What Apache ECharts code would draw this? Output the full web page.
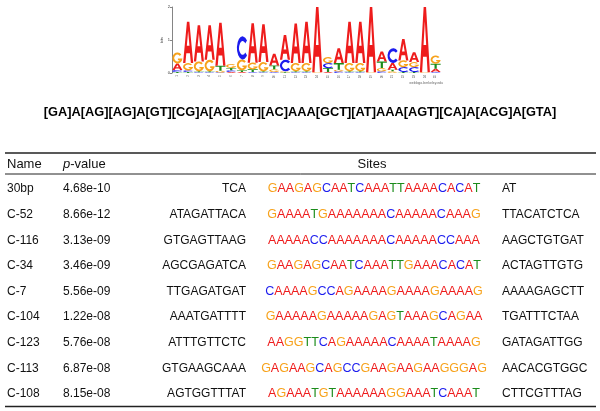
<!DOCTYPE html>
<html><head><meta charset="utf-8">
<script src="https://cdn.jsdelivr.net/npm/echarts@6/dist/echarts.min.js"></script>
<style>html,body{margin:0;padding:0;background:#fff}#c{width:600px;height:411px}</style>
</head><body><div id="c"></div>
<script>
// ---------- DATA ----------
const positions = ['1','2','3','4','5','6','7','8','9','10','11','12','13','14','15','16','17','18','19','20','21','22','23','24','25'];
const bitsA = [0.20,1.25,1.10,1.05,1.30,0.03,0.03,1.20,1.15,0.35,0.75,1.20,1.25,1.98,0.03,0.45,1.25,1.25,1.98,0.30,0.20,0.65,0.30,1.98,0.10];
const bitsC = [0.06,0.05,0.02,0.02,0.02,0.05,0.70,0.03,0.02,0.03,0.35,0.02,0.02,0.00,0.15,0.05,0.02,0.02,0.00,0.05,0.45,0.15,0.15,0.00,0.03];
const bitsG = [0.33,0.22,0.30,0.35,0.05,0.12,0.33,0.20,0.28,0.08,0.03,0.25,0.25,0.02,0.18,0.05,0.25,0.25,0.02,0.10,0.05,0.20,0.15,0.02,0.25];
const bitsT = [0.03,0.03,0.03,0.03,0.15,0.07,0.05,0.08,0.03,0.12,0.02,0.03,0.03,0.00,0.12,0.20,0.03,0.03,0.00,0.20,0.05,0.03,0.03,0.00,0.15];
const bitTicks = [0,1,2];
const consensus = '[GA]A[AG][AG]A[GT][CG]A[AG][AT][AC]AAA[GCT][AT]AAA[AGT][CA]A[ACG]A[GTA]';
const headers = ['Name','p-value','Sites'];
const names = ['30bp','C-52','C-116','C-34','C-7','C-104','C-123','C-113','C-108'];
const pvalues = ['4.68e-10','8.66e-12','3.13e-09','3.46e-09','5.56e-09','1.22e-08','5.76e-08','6.87e-08','8.15e-08'];
const leftFlanks = ['TCA','ATAGATTACA','GTGAGTTAAG','AGCGAGATCA','TTGAGATGAT','AAATGATTTT','ATTTGTTCTC','GTGAAGCAAA','AGTGGTTTAT'];
const sites = ['GAAGAGCAATCAAATTAAAACACAT','GAAAATGAAAAAAACAAAAACAAAG','AAAAACCAAAAAAACAAAAACCAAA','GAAGAGCAATCAAATTGAAACACAT','CAAAAGCCAGAAAAGAAAAGAAAAG','GAAAAAGAAAAAGAGTAAAGCAGAA','AAGGTTCAGAAAAACAAAATAAAAG','GAGAAGCAGCCGAAGAAGAAGGGAG','AGAAATGTAAAAAAGGAAATCAAAT'];
const rightFlanks = ['AT','TTACATCTCA','AAGCTGTGAT','ACTAGTTGTG','AAAAGAGCTT','TGATTTCTAA','GATAGATTGG','AACACGTGGC','CTTCGTTTAG'];

// ---------- STYLE ----------
const FONT = '"Liberation Sans", Arial, Helvetica, sans-serif';
const letters = ['A','C','G','T'];
const letterColors = {A:'#ee1c1c', C:'#1c1cee', G:'#f7a21b', T:'#1b8c1b'};
const glyphs = {
  A:'M0,100 L38,0 L62,0 L100,100 L77,100 L68,76 L32,76 L23,100 Z M37,58 L63,58 L50,22 Z',
  C:'M88.3,17.9 A50,50 0 1 0 88.3,82.1 L73,69.3 A30,30 0 1 1 73,30.7 Z',
  G:'M88.3,17.9 A50,50 0 1 0 99.7,55 L55,55 L55,70 L72.4,70 A30,30 0 1 1 73,30.7 Z',
  T:'M0,0 L100,0 L100,20 L61,20 L61,100 L39,100 L39,20 L0,20 Z'
};

// build stacks: smallest at bottom, largest on top
const bitsBy = {A:bitsA, C:bitsC, G:bitsG, T:bitsT};
const logoData = [];
positions.forEach((p, i) => {
  const arr = letters.map(l => ({l, h: bitsBy[l][i]})).sort((a,b) => a.h - b.h);
  let acc = 0;
  arr.forEach(o => {
    if (o.h > 0) logoData.push([i, acc, acc + o.h, letters.indexOf(o.l)]);
    acc += o.h;
  });
});

const siteRich = {};
letters.forEach(l => { siteRich[l] = {fill: letterColors[l], color: letterColors[l], fontSize: 12.5, fontFamily: FONT}; });
function richSite(s){ return s.split('').map(ch => '{' + ch + '|' + ch + '}').join(''); }

function txt(x, y, text, align, size){
  return {type:'text', x:x, y:y, style:{text:text, fill:'#111', fontSize:size||12, fontFamily:FONT, textAlign:align, textVerticalAlign:'middle'}};
}

const chart = echarts.init(document.getElementById('c'), null, {renderer:'canvas'});
chart.setOption({
  animation:false,
  backgroundColor:'#fff',
  grid:[
    {left:172, top:7, width:269, height:66, containLabel:false},
    {left:0, right:0, top:176.2, height:230.4, containLabel:false}
  ],
  xAxis:[
    {gridIndex:0, type:'category', data:positions, boundaryGap:true,
     axisLine:{show:false}, axisTick:{show:false}, splitLine:{show:false},
     axisLabel:{fontSize:3, color:'#555', rotate:90, margin:2, interval:0}},
    {gridIndex:1, type:'value', min:0, max:600, show:false}
  ],
  yAxis:[
    {gridIndex:0, type:'value', min:0, max:2, interval:1, splitLine:{show:false},
     axisLine:{show:true, lineStyle:{color:'#333', width:0.6}},
     axisTick:{show:true, length:2, lineStyle:{color:'#333', width:0.6}},
     axisLabel:{fontSize:4, color:'#333', margin:2},
     name:'bits', nameLocation:'middle', nameGap:6, nameRotate:90,
     nameTextStyle:{fontSize:4, color:'#333'}},
    {gridIndex:1, type:'category', data:names, inverse:true, show:false}
  ],
  series:[
    {type:'custom', xAxisIndex:0, yAxisIndex:0, data:logoData, encode:{x:0, y:[1,2]},
     renderItem:function(params, api){
       const pos = api.value(0), y0 = api.value(1), y1 = api.value(2), li = api.value(3);
       const p0 = api.coord([pos, y0]), p1 = api.coord([pos, y1]);
       const bw = api.size([1, 0])[0] * 0.94;
       const h = p0[1] - p1[1];
       if (h < 0.4) return null;
       const L = letters[li];
       return {type:'path',
         shape:{pathData:glyphs[L], x:p0[0] - bw/2, y:p1[1], width:bw, height:h, layout:'cover'},
         style:{fill:letterColors[L]}};
     }},
    {type:'custom', xAxisIndex:1, yAxisIndex:1, data:names.map((n,i)=>[0,i]),
     renderItem:function(params, api){
       const i = params.dataIndex;
       const y = api.coord([0, i])[1];
       const X = v => api.coord([v, i])[0];
       return {type:'group', children:[
         txt(X(7), y, names[i], 'left'),
         txt(X(63), y, pvalues[i], 'left'),
         txt(X(246), y, leftFlanks[i], 'right'),
         {type:'text', x:X(374), y:y, style:{text:richSite(sites[i]), rich:siteRich, fill:'#111', fontSize:12.5, fontFamily:FONT, textAlign:'center', textVerticalAlign:'middle'}},
         txt(X(502), y, rightFlanks[i], 'left')
       ]};
     }}
  ],
  graphic:[
    {type:'text', x:300, y:112, style:{text:consensus, fill:'#000', fontSize:12.8, fontWeight:'bold', fontFamily:FONT, textAlign:'center', textVerticalAlign:'middle'}},
    {type:'text', x:443, y:83, style:{text:'weblogo.berkeley.edu', fill:'#666', fontSize:3.5, fontFamily:FONT, textAlign:'right', textVerticalAlign:'middle'}},
    {type:'line', shape:{x1:5, y1:153, x2:596, y2:153}, style:{stroke:'#222', lineWidth:1.6}},
    {type:'line', shape:{x1:5, y1:174, x2:596, y2:174}, style:{stroke:'#222', lineWidth:1}},
    {type:'line', shape:{x1:5, y1:406.5, x2:596, y2:406.5}, style:{stroke:'#222', lineWidth:1.6}},
    {type:'text', x:7, y:164.5, style:{text:headers[0], fill:'#111', fontSize:13, fontFamily:FONT, textAlign:'left', textVerticalAlign:'middle'}},
    {type:'text', x:63, y:164.5, style:{text:'{i|p}-value', rich:{i:{fontStyle:'italic', fontSize:13, fontFamily:FONT, fill:'#111'}}, fill:'#111', fontSize:13, fontFamily:FONT, textAlign:'left', textVerticalAlign:'middle'}},
    {type:'text', x:372, y:164.5, style:{text:headers[2], fill:'#111', fontSize:13, fontFamily:FONT, textAlign:'center', textVerticalAlign:'middle'}}
  ]
});
</script></body></html>
